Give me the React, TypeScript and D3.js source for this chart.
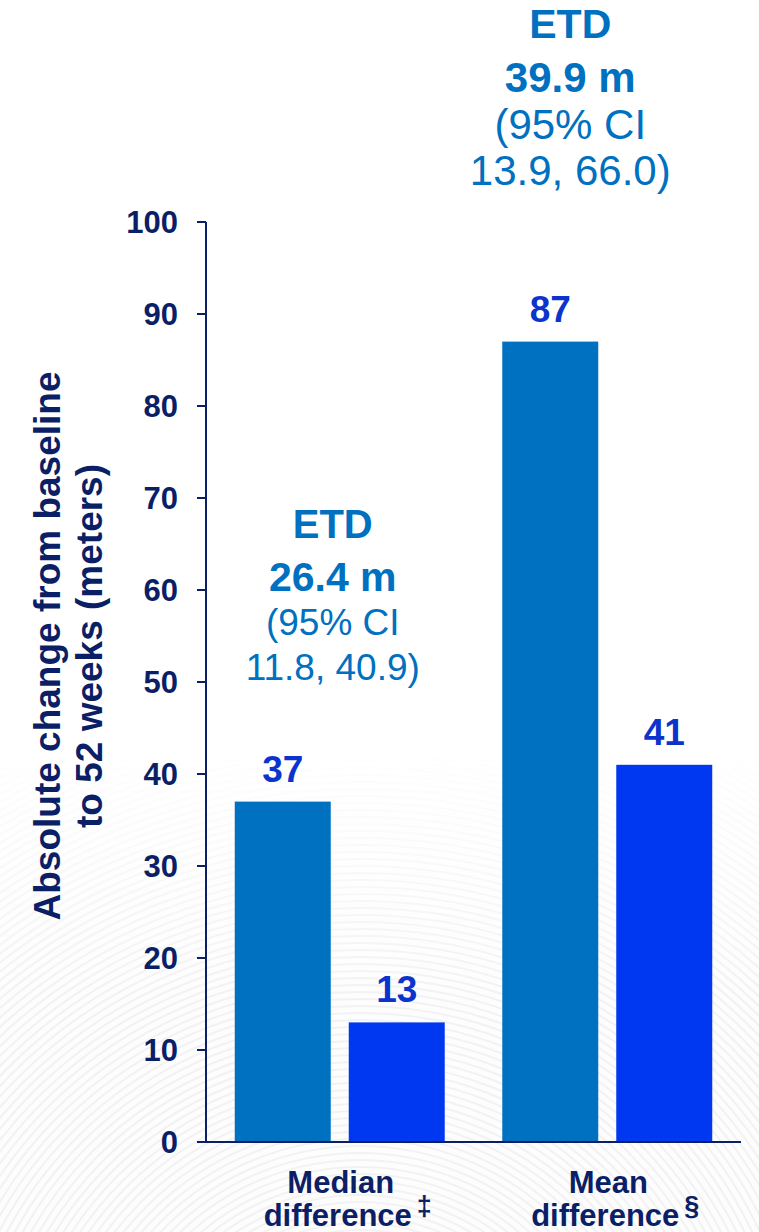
import React from 'react';
import * as d3 from 'd3';

// Comparison groups along the x axis
const groups = ['Median', 'Mean'];
const groupLine1 = ['Median', 'Mean'];
const groupLine2 = ['difference', 'difference'];
const groupMarks = ['‡', '§'];

// Two treatment arms per group
const series = ['arm1', 'arm2'];
const arm1Values = [37, 87];
const arm2Values = [13, 41];

// Estimated treatment difference annotations
const etdTitles = ['ETD', 'ETD'];
const etdValues = ['26.4 m', '39.9 m'];
const ciLine1 = ['(95% CI', '(95% CI'];
const ciLine2 = ['11.8, 40.9)', '13.9, 66.0)'];

const yTicks = [0, 10, 20, 30, 40, 50, 60, 70, 80, 90, 100];
const yTitle = ['Absolute change from baseline', 'to 52 weeks (meters)'];

const W = 759;
const H = 1232;
const FONT = '"Liberation Sans", Arial, Helvetica, sans-serif';
const NAVY = '#0B1F66';
const ARM_COLORS = ['#0070C0', '#0038F2'];
const LABEL_BLUE = '#0A34CC';
const ETD_BLUE = '#0070C0';

export default function App() {
  const y = d3.scaleLinear().domain([0, 100]).range([1142, 222]);
  const x0 = d3
    .scaleBand<string>()
    .domain(groups)
    .range([206, 741])
    .paddingInner(0.215)
    .paddingOuter(0.1075);
  const x1 = d3
    .scaleBand<string>()
    .domain(series)
    .range([0, x0.bandwidth()])
    .paddingInner(0.158);

  const rows = groups.map((g, i) => ({
    group: g,
    values: [arm1Values[i], arm2Values[i]],
  }));

  // faint ripple decoration in the lower part of the background
  const rippleRadii = d3.range(120, 900, 7);
  // annotation placement relative to each group centre
  const etdLayout = [
    { dx: -7, base: 538, boldSize: 40, ciSize: 37, gaps: [53, 97, 142] },
    { dx: -37, base: 38, boldSize: 41, ciSize: 42, gaps: [54, 101, 147] },
  ];

  return (
    <svg
      width={W}
      height={H}
      viewBox={`0 0 ${W} ${H}`}
      style={{ position: 'absolute', left: 0, top: 0, display: 'block', background: '#ffffff' }}
    >
      <defs>
        <linearGradient id="rippleFade" x1="0" y1="0" x2="0" y2="1">
          <stop offset="0.6" stopColor="#fff" stopOpacity={0} />
          <stop offset="0.8" stopColor="#fff" stopOpacity={1} />
          <stop offset="1" stopColor="#fff" stopOpacity={1} />
        </linearGradient>
        <mask id="rippleMask">
          <rect x={0} y={0} width={W} height={H} fill="url(#rippleFade)" />
        </mask>
      </defs>

      <g mask="url(#rippleMask)" opacity={0.22}>
        <rect x={0} y={0} width={W} height={H} fill="#f1f1f3" opacity={0.6} />
        {rippleRadii.map((r) => (
          <circle key={r} cx={360} cy={1420} r={r} fill="none" stroke="#c9c9cf" strokeWidth={2.2} />
        ))}
      </g>

      {/* bars */}
      {rows.map((row) => (
        <g key={row.group} transform={`translate(${x0(row.group)},0)`}>
          {row.values.map((v, j) => (
            <rect
              key={series[j]}
              x={x1(series[j])}
              y={y(v)}
              width={x1.bandwidth()}
              height={y(0) - y(v)}
              fill={ARM_COLORS[j]}
            />
          ))}
          {row.values.map((v, j) => (
            <text
              key={'l' + series[j]}
              x={(x1(series[j]) as number) + x1.bandwidth() / 2}
              y={y(v) - 20}
              textAnchor="middle"
              fontFamily={FONT}
              fontWeight="bold"
              fontSize={37}
              fill={LABEL_BLUE}
            >
              {v}
            </text>
          ))}
        </g>
      ))}

      {/* y axis */}
      <line x1={206} x2={206} y1={y(100)} y2={y(0)} stroke={NAVY} strokeWidth={2} />
      {yTicks.map((t) => (
        <g key={t}>
          <line x1={197} x2={206} y1={y(t)} y2={y(t)} stroke={NAVY} strokeWidth={2} />
          <text
            x={178}
            y={y(t)}
            dy="0.37em"
            textAnchor="end"
            fontFamily={FONT}
            fontWeight="bold"
            fontSize={31}
            fill={NAVY}
          >
            {t}
          </text>
        </g>
      ))}
      {/* x baseline */}
      <line x1={197} x2={741} y1={y(0)} y2={y(0)} stroke={NAVY} strokeWidth={2} />

      {/* y axis title */}
      {yTitle.map((line, i) => (
        <text
          key={line}
          transform={`translate(${60 + i * 42},646) rotate(-90)`}
          textAnchor="middle"
          fontFamily={FONT}
          fontWeight="bold"
          fontSize={37}
          fill={NAVY}
        >
          {line}
        </text>
      ))}

      {/* category labels */}
      {groups.map((g, i) => {
        const cx = (x0(g) as number) + x0.bandwidth() / 2;
        return (
          <g key={'c' + g}>
            <text x={cx + 1} y={1193} textAnchor="middle" fontFamily={FONT} fontWeight="bold" fontSize={31} fill={NAVY}>
              {groupLine1[i]}
            </text>
            <text x={cx - 2} y={1226} textAnchor="middle" fontFamily={FONT} fontWeight="bold" fontSize={31} fill={NAVY}>
              {groupLine2[i]}
            </text>
            <text x={cx + 77} y={1215} textAnchor="start" fontFamily={FONT} fontWeight="bold" fontSize={27} fill={NAVY}>
              {groupMarks[i]}
            </text>
          </g>
        );
      })}

      {/* ETD annotations above each group */}
      {groups.map((g, i) => {
        const L = etdLayout[i];
        const cx = (x0(g) as number) + x0.bandwidth() / 2 + L.dx;
        return (
          <g key={'e' + g} fontFamily={FONT} fill={ETD_BLUE} textAnchor="middle">
            <text x={cx} y={L.base} fontWeight="bold" fontSize={L.boldSize}>
              {etdTitles[i]}
            </text>
            <text x={cx} y={L.base + L.gaps[0]} fontWeight="bold" fontSize={L.boldSize + 1}>
              {etdValues[i]}
            </text>
            <text x={cx} y={L.base + L.gaps[1]} fontSize={L.ciSize}>
              {ciLine1[i]}
            </text>
            <text x={cx} y={L.base + L.gaps[2]} fontSize={L.ciSize}>
              {ciLine2[i]}
            </text>
          </g>
        );
      })}
    </svg>
  );
}
